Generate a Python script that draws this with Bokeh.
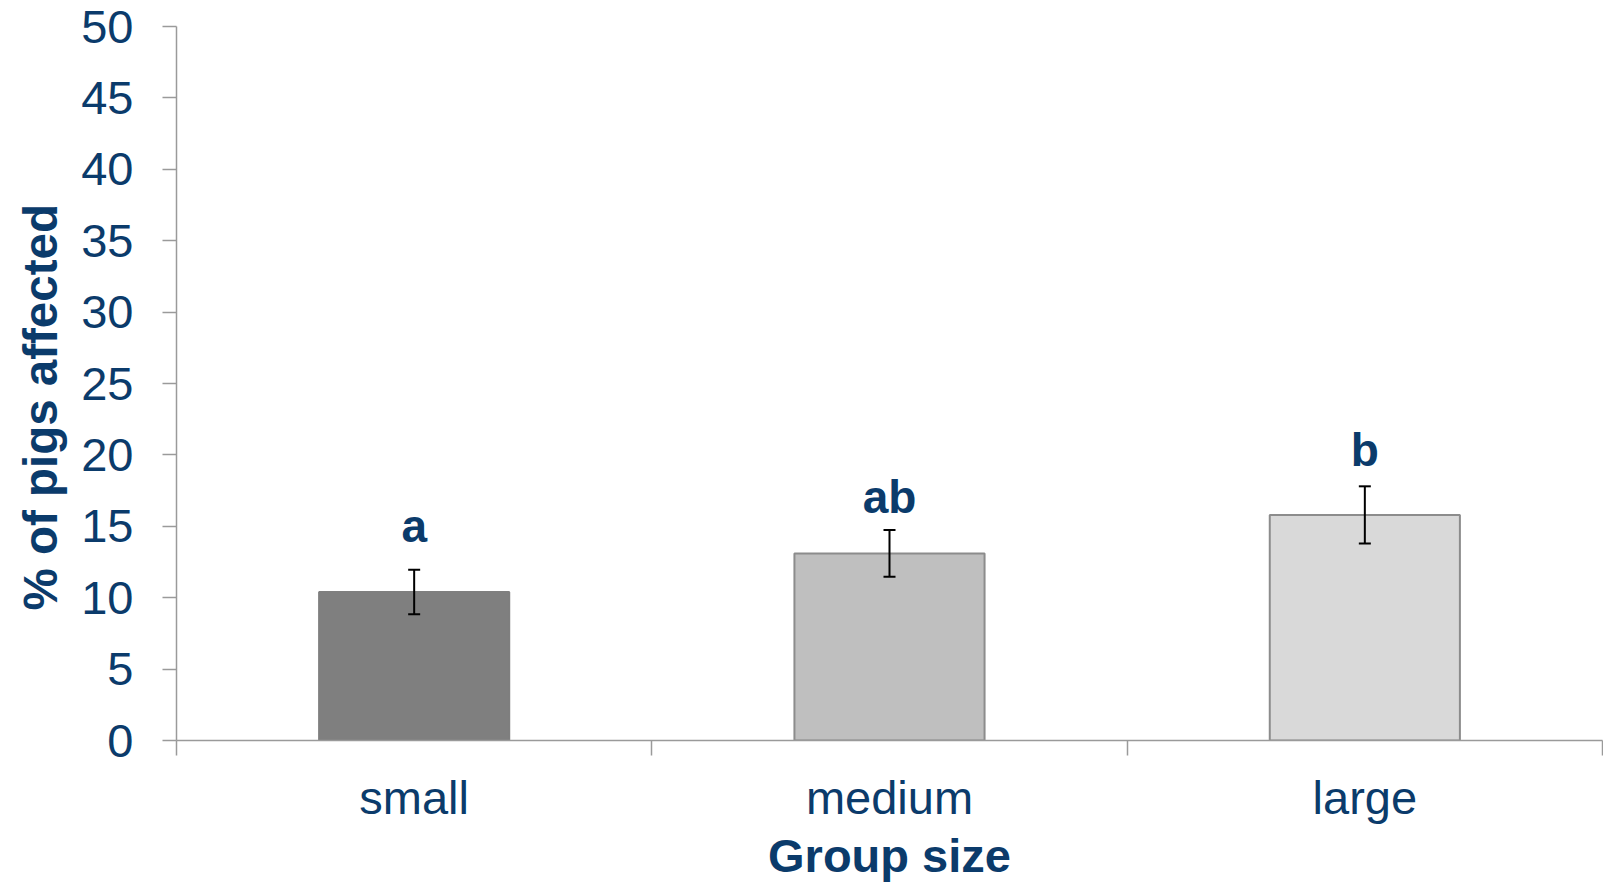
from bokeh.plotting import figure
from bokeh.models import ColumnDataSource, FixedTicker, Whisker, TeeHead, Range1d, Title
from bokeh.embed import file_html
from bokeh.resources import INLINE
from bokeh.core.properties import value
import numpy as np

# ---- data ----
categories = ["small", "medium", "large"]
means = [10.4, 13.1, 15.8]
errors = [1.56, 1.64, 2.0]
letters = ["a", "ab", "b"]
y_ticks = [0, 5, 10, 15, 20, 25, 30, 35, 40, 45, 50]

# ---- styles ----
bar_colors = ["#7f7f7f", "#bfbfbf", "#d9d9d9"]
bar_lines = ["#7f7f7f", "#8c8c8c", "#8c8c8c"]
letter_offsets = [-44, -33, -36]
TXT = "#0b3b6b"
AX = "#9a9a9a"
FONT = "Liberation Sans"

xpos = np.arange(len(categories)) + 0.5
m = np.array(means)
e = np.array(errors)
src = ColumnDataSource(dict(
    x=xpos, top=m, upper=m + e, lower=m - e,
    color=bar_colors, lc=bar_lines, letter=letters, loff=letter_offsets,
))

p = figure(width=1603, height=885,
           x_range=Range1d(0, len(categories)), y_range=Range1d(0, 50),
           output_backend="svg", toolbar_location=None,
           min_border_left=176, min_border_right=1,
           min_border_top=26, min_border_bottom=145)
p.background_fill_color = "white"
p.border_fill_color = "white"
p.outline_line_color = None
p.grid.visible = False

p.vbar(x="x", top="top", width=0.4, bottom=0, source=src,
       fill_color="color", line_color="lc", line_width=2)

wh = Whisker(base="x", upper="upper", lower="lower", source=src,
             line_color="black", line_width=2,
             upper_head=TeeHead(size=12, line_width=2, line_color="black"),
             lower_head=TeeHead(size=12, line_width=2, line_color="black"))
wh.level = "overlay"
p.add_layout(wh)

p.text(x="x", y="upper", text="letter", source=src, y_offset="loff",
       text_align="center", text_baseline="alphabetic",
       text_font=value(FONT), text_font_style="bold",
       text_font_size="46px", text_color=TXT)

# x axis
xa = p.xaxis[0]
xa.ticker = FixedTicker(ticks=list(xpos), minor_ticks=list(range(len(categories) + 1)))
xa.major_label_overrides = {float(v): c for v, c in zip(xpos, categories)}
xa.major_tick_out = 0
xa.major_tick_in = 0
xa.minor_tick_out = 15
xa.minor_tick_in = 0
xa.minor_tick_line_color = AX
xa.minor_tick_line_width = 1.5
xa.axis_line_color = AX
xa.axis_line_width = 1.5
xa.major_label_text_font = FONT
xa.major_label_text_font_size = "47px"
xa.major_label_text_color = TXT
xa.major_label_standoff = 15
xa.axis_label = "Group size"
xa.axis_label_text_font = FONT
xa.axis_label_text_font_style = "bold"
xa.axis_label_text_font_size = "47px"
xa.axis_label_text_color = TXT
xa.axis_label_standoff = 2

# y axis
ya = p.yaxis[0]
ya.ticker = FixedTicker(ticks=y_ticks)
ya.major_tick_out = 14
ya.major_tick_in = 0
ya.minor_tick_out = 0
ya.minor_tick_in = 0
ya.major_tick_line_color = AX
ya.major_tick_line_width = 1.5
ya.axis_line_color = AX
ya.axis_line_width = 1.5
ya.major_label_text_font = FONT
ya.major_label_text_font_size = "47px"
ya.major_label_text_color = TXT
ya.major_label_standoff = 29

# y axis title, a little below the frame centre as in the original
ytitle = Title(text="% of pigs affected", align="left", offset=130,
               standoff=23, text_font=FONT, text_font_style="bold",
               text_font_size="47.5px", text_color=TXT)
p.add_layout(ytitle, "left")

open("out.html", "w").write(file_html(p, INLINE))
